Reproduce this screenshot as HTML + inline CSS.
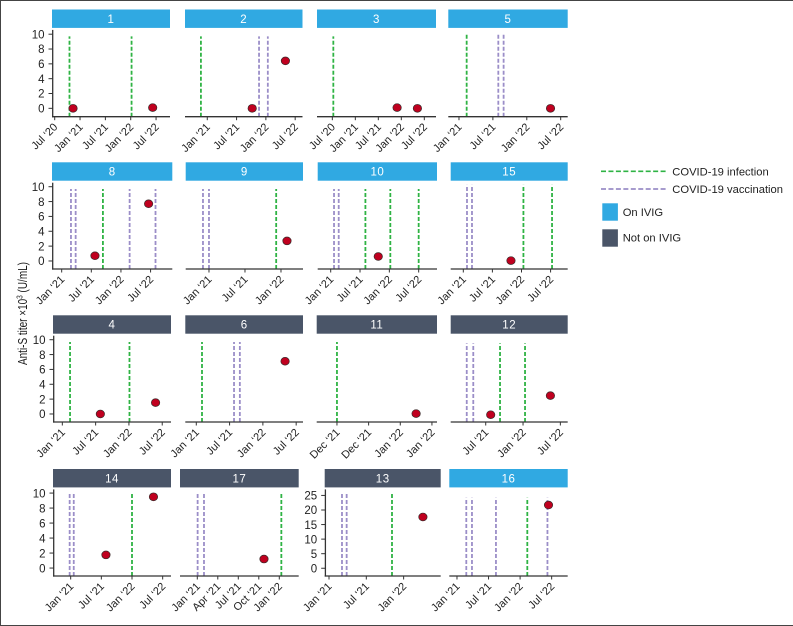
<!DOCTYPE html>
<html lang="en">
<head>
<meta charset="utf-8">
<title>Anti-S titer by patient</title>
<style>
html,body{margin:0;padding:0;background:#fff;}
body{width:793px;height:626px;overflow:hidden;}
svg{display:block;font-family:"Liberation Sans",Arial,sans-serif;}
</style>
</head>
<body>
<svg id="chart" xmlns="http://www.w3.org/2000/svg" width="793" height="626" viewBox="0 0 793 626">
  <rect x="0" y="0" width="793" height="626" fill="#fff"/>
  <path d="M0.5 626V0.5H793M0 625.5H793" fill="none" stroke="#444" stroke-width="1"/>
  <text transform="translate(27,313.5) rotate(-90)" text-anchor="middle" font-size="13" fill="#1a1a1a" textLength="103" lengthAdjust="spacingAndGlyphs">Anti-S titer ×10<tspan dy="-4.5" font-size="8.5">3</tspan><tspan dy="4.5"> (U/mL)</tspan></text>
  <g id="panels"></g>
  <g>
    <g>
      <line x1="601" x2="668" y1="171.3" y2="171.3" stroke="#2fb344" stroke-width="1.7" stroke-dasharray="5 2.45"/>
      <text x="672.3" y="175.3" font-size="11.2" fill="#222">COVID-19 infection</text>
    </g>
    <g>
      <line x1="601" x2="668" y1="189" y2="189" stroke="#9b8ec8" stroke-width="1.7" stroke-dasharray="5 2.45"/>
      <text x="672.3" y="193" font-size="11.2" fill="#222">COVID-19 vaccination</text>
    </g>
    <g>
      <rect x="602.3" y="203.3" width="15.6" height="17.4" fill="#30a9e2"/>
      <text x="622.7" y="215.8" font-size="11.2" fill="#222">On IVIG</text>
    </g>
    <g>
      <rect x="602.3" y="229.3" width="15.6" height="17.4" fill="#4a5568"/>
      <text x="622.7" y="241.3" font-size="11.2" fill="#222">Not on IVIG</text>
    </g>
  </g>
</svg>
<script>
// ---- Data (months since Jan 2021 on the x axis; titer x10^3 U/mL on the y axis) ----
const panelIds = ['1','2','3','5','8','9','10','15','4','6','11','12','14','17','13','16'];
const onIvig = [true,true,true,true,true,true,true,true,false,false,false,false,false,false,false,true];
const infections = [
  [-2.5,12.2],[-1.3],[-5.74],[1.36],
  [8.35],[11.2],[7.1,12.2,18],[12.4,18.3],
  [1.39,12.1],[1.03],[11],[8.3,12.32],
  [12],[12.3],[10.13],[13.37]
];
const vaccinations = [
  [],[10.6,12.4],[],[6.96,7.9],
  [1.88,2.83,13.76,19],[-1,0],[0.68,1.64],[0.76,1.79],
  [],[6.8,7.85],[],[2.95,4],
  [-0.2,0.6],[0.05,0.98],[2.09,2.84],[1.77,2.85,7.41,17.2]
];
const sampleMonths = [
  [-1.66,17.2],[9.2,16],[10.9,16.2],[16.2],
  [6.74,17.6],[13],[9.73],[9.83],
  [6.85,16.8],[16],[12.25],[6.8,16.4],
  [6.9,16.2],[9.76],[15.1],[17.4]
];
const sampleTiters = [
  [0,0.1],[0,6.4],[0.1,0],[0],
  [0.7,7.7],[2.7],[0.6],[0.05],
  [0,1.53],[7.1],[0.05],[-0.1,2.47],
  [1.75,9.5],[1.2],[17.6],[21.7]
];
const eventLineTop = [9.7,9.7,9.7,10.1,9.7,9.7,9.7,10.25,9.7,9.7,9.7,9.5,10.05,10.05,26,24.2];
const xDomains = [
  [-6.64,21.3],[-4.56,19.5],[-10,21.05],[-1.89,19.24],
  [-1.96,22.4],[-3.88,15.67],[-2.66,21.75],[-2.6,21.53],
  [-1.68,19.58],[-1.98,19.23],[10.68,12.58],[0.37,19.18],
  [-3.46,19.63],[-2.53,14.84],[-0.69,17.96],[-1.46,21.05]
];
const yDomains = [
  [-1.13,10.58],[-1.13,10.58],[-1.13,10.58],[-1.13,10.58],
  [-1.08,10.54],[-1.08,10.54],[-1.08,10.54],[-1.08,10.54],
  [-1.08,10.54],[-1.08,10.54],[-1.08,10.54],[-1.08,10.54],
  [-1.06,10.49],[-1.06,10.49],[-2.66,27.07],[-2.66,27.07]
];
const xTickMonths = [
  [-6,0,6,12,18],[0,6,12,18],[-6,0,6,12,18],[0,6,12,18],
  [0,6,12,18],[0,6,12],[0,6,12,18],[0,6,12,18],
  [0,6,12,18],[0,6,12,18],[11,11.5,12,12.5],[6,12,18],
  [0,6,12,18],[0,3,6,9,12],[0,6,12],[0,6,12,18]
];
const xTickLabels = [
  ['Jul ‘20','Jan ‘21','Jul ‘21','Jan ‘22','Jul ‘22'],['Jan ‘21','Jul ‘21','Jan ‘22','Jul ‘22'],['Jul ‘20','Jan ‘21','Jul ‘21','Jan ‘22','Jul ‘22'],['Jan ‘21','Jul ‘21','Jan ‘22','Jul ‘22'],
  ['Jan ‘21','Jul ‘21','Jan ‘22','Jul ‘22'],['Jan ‘21','Jul ‘21','Jan ‘22'],['Jan ‘21','Jul ‘21','Jan ‘22','Jul ‘22'],['Jan ‘21','Jul ‘21','Jan ‘22','Jul ‘22'],
  ['Jan ‘21','Jul ‘21','Jan ‘22','Jul ‘22'],['Jan ‘21','Jul ‘21','Jan ‘22','Jul ‘22'],['Dec ‘21','Dec ‘21','Jan ‘22','Jan ‘22'],['Jul ‘21','Jan ‘22','Jul ‘22'],
  ['Jan ‘21','Jul ‘21','Jan ‘22','Jul ‘22'],['Jan ‘21','Apr ‘21','Jul ‘21','Oct ‘21','Jan ‘22'],['Jan ‘21','Jul ‘21','Jan ‘22'],['Jan ‘21','Jul ‘21','Jan ‘22','Jul ‘22']
];
const yTicksSmall = [0,2,4,6,8,10];
const yTicksLarge = [0,5,10,15,20,25];

// ---- Layout (separate from the data) ----
const panelLefts = [52,185,317,448.3,52,185.7,317.7,450.7,53,185.3,316.7,450.7,53,180,324.7,449.3];
const panelRights = [170,302.5,436,567.7,172.3,303,437,567.7,171,303,437,567.7,171,298.7,440.7,567.7];
const rowStripTops = [9.5,162.3,315.3,469];
const rowAxisBottoms = [116.7,269,422,576];
const stripHeight = 18.4;
const plotGap = 2;
const panelsWithYAxis = ['1','8','4','14','13'];
const SVGNS = 'http://www.w3.org/2000/svg';
const root = document.getElementById('panels');

function make(parent, tag, attrs) {
  const el = document.createElementNS(SVGNS, tag);
  for (const k in attrs) el.setAttribute(k, attrs[k]);
  parent.appendChild(el);
  return el;
}
function scaleX(i, v) {
  const d = xDomains[i];
  return panelLefts[i] + (v - d[0]) / (d[1] - d[0]) * (panelRights[i] - panelLefts[i]);
}
function scaleY(i, v) {
  const row = Math.floor(i / 4);
  const bottom = rowAxisBottoms[row];
  const top = rowStripTops[row] + stripHeight + plotGap;
  const d = yDomains[i];
  return bottom - (v - d[0]) / (d[1] - d[0]) * (bottom - top);
}

panelIds.forEach(function (id, i) {
  const row = Math.floor(i / 4);
  const left = panelLefts[i];
  const right = panelRights[i];
  const bottom = rowAxisBottoms[row];
  const stripTop = rowStripTops[row];
  const plotTop = stripTop + stripHeight + plotGap;

  const g = make(root, 'g', {});
  
  

  const strip = make(g, 'rect', {x: left, y: stripTop, width: right - left, height: stripHeight, fill: onIvig[i] ? '#30a9e2' : '#4a5568'});
  
  

  const stripLabel = make(g, 'text', {x: (left + right) / 2, y: stripTop + 13.4, 'text-anchor': 'middle', 'font-size': 11.5, fill: '#fff', 'letter-spacing': 0.5});
  stripLabel.textContent = id;
  
  

  infections[i].forEach(function (m) {
    const line = make(g, 'line', {x1: scaleX(i, m), x2: scaleX(i, m), y1: bottom, y2: scaleY(i, eventLineTop[i]), stroke: '#2fb344', 'stroke-width': 1.8, 'stroke-dasharray': '4 2'});
    
    
  });
  vaccinations[i].forEach(function (m) {
    const line = make(g, 'line', {x1: scaleX(i, m), x2: scaleX(i, m), y1: bottom, y2: scaleY(i, eventLineTop[i]), stroke: '#9b8ec8', 'stroke-width': 1.8, 'stroke-dasharray': '4 2'});
    
    
  });

  const xAxis = make(g, 'line', {x1: left, x2: right, y1: bottom, y2: bottom, stroke: '#333', 'stroke-width': 1.3});
  
  

  xTickMonths[i].forEach(function (m, t) {
    const x = scaleX(i, m);
    const tick = make(g, 'line', {x1: x, x2: x, y1: bottom, y2: bottom + 3.5, stroke: '#333', 'stroke-width': 1});
    
    
    const label = make(g, 'text', {transform: 'translate(' + (x + 3.5) + ',' + (bottom + 11) + ') rotate(-45)', 'text-anchor': 'end', 'font-size': 11, fill: '#222'});
    label.textContent = xTickLabels[i][t];
    
    
  });

  if (panelsWithYAxis.indexOf(id) >= 0) {
    const yAxis = make(g, 'line', {x1: left + 0.7, x2: left + 0.7, y1: bottom + 0.6, y2: plotTop, stroke: '#333', 'stroke-width': 1.3});
    
    
    const ticks = id === '13' ? yTicksLarge : yTicksSmall;
    ticks.forEach(function (v) {
      const y = scaleY(i, v);
      const tick = make(g, 'line', {x1: left - 3.5, x2: left + 0.7, y1: y, y2: y, stroke: '#333', 'stroke-width': 1});
      
      
      const label = make(g, 'text', {x: left - 7.5, y: y + 4.2, 'text-anchor': 'end', 'font-size': 11.5, fill: '#222'});
      label.textContent = String(v);
      
      
    });
  }

  sampleMonths[i].forEach(function (m, p) {
    const point = make(g, 'ellipse', {cx: scaleX(i, m), cy: scaleY(i, sampleTiters[i][p]), rx: 4.2, ry: 3.9, fill: '#c0001f', stroke: '#3a2a2a', 'stroke-width': 0.7});
    
    
  });
});
</script>
</body>
</html>
